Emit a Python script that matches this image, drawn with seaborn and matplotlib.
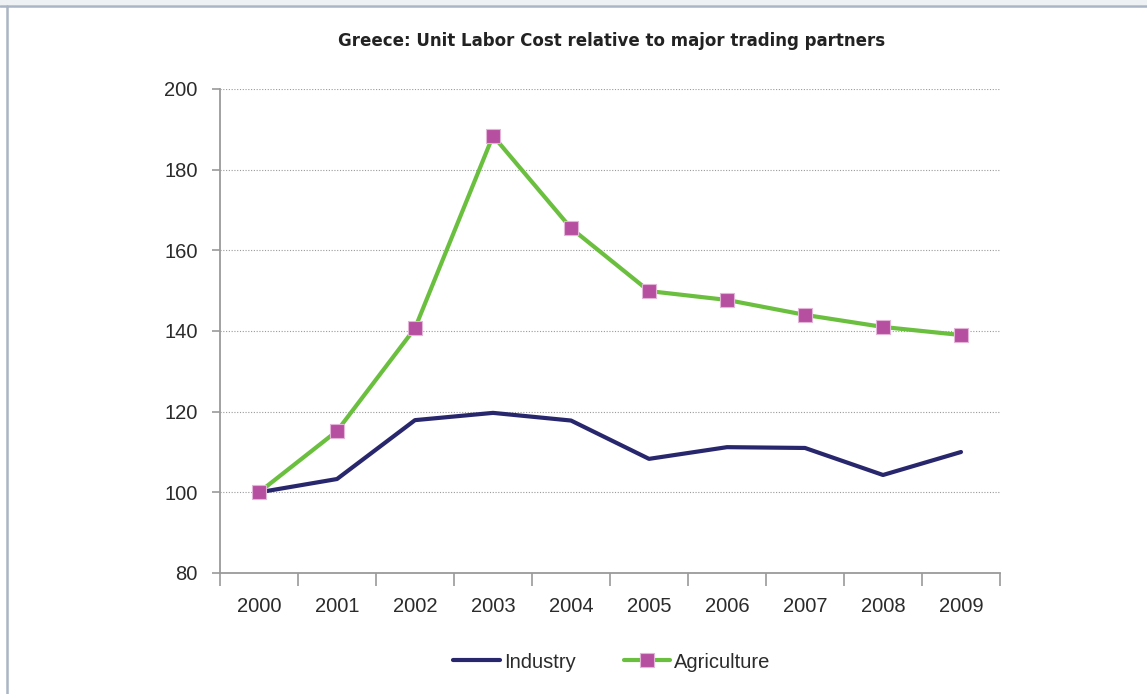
import numpy as np
import pandas as pd
import matplotlib
matplotlib.use("Agg")
import matplotlib.pyplot as plt
import seaborn as sns
from matplotlib.lines import Line2D

years = [2000, 2001, 2002, 2003, 2004, 2005, 2006, 2007, 2008, 2009]
industry = [100.0, 103.3, 117.9, 119.7, 117.8, 108.3, 111.2, 111.0, 104.3, 110.0]
agriculture = [100.0, 115.2, 140.7, 188.4, 165.5, 149.9, 147.7, 144.0, 141.0, 139.0]
y_ticks = [80, 100, 120, 140, 160, 180, 200]
title = "Greece: Unit Labor Cost relative to major trading partners"

sns.set_theme(style="white")
plt.rcParams['font.family'] = ['Liberation Sans', 'DejaVu Sans']

df = pd.DataFrame({"year": years, "Industry": industry, "Agriculture": agriculture})

fig = plt.figure(figsize=(11.47, 6.94), dpi=100)
ax = fig.add_axes([220/1147, 1-573/694, 780/1147, 484/694])

navy = "#28276d"
green = "#6bbf3f"
magenta = "#b64f9f"

sns.lineplot(data=df, x="year", y="Industry", ax=ax, color=navy, linewidth=3.0, zorder=3)
sns.lineplot(data=df, x="year", y="Agriculture", ax=ax, color=green, linewidth=3.0,
             marker="s", markersize=10.5, markerfacecolor=magenta, markeredgecolor="#e3b3d8",
             markeredgewidth=0.8, zorder=4)

ax.set_xlim(years[0] - 0.5, years[-1] + 0.5)
ax.set_ylim(y_ticks[0], y_ticks[-1])
ax.set_xlabel("")
ax.set_ylabel("")

# y axis
ax.set_yticks(y_ticks)
ax.set_yticklabels([str(v) for v in y_ticks], fontsize=14.5, color="#2b2b2b")
ax.tick_params(axis="y", which="major", direction="out", length=6, width=1.2,
               color="#9a9a9a", pad=10, left=True)

# x axis: major ticks at boundaries, labels at categories via minor ticks
bounds = [y - 0.5 for y in years] + [years[-1] + 0.5]
ax.set_xticks(bounds)
ax.set_xticklabels([])
ax.tick_params(axis="x", which="major", direction="out", length=9, width=1.2,
               color="#9a9a9a", bottom=True)
ax.set_xticks(years, minor=True)
ax.set_xticklabels([str(y) for y in years], minor=True, fontsize=14.5, color="#2b2b2b")
ax.tick_params(axis="x", which="minor", length=0, pad=17)

for s in ["top", "right"]:
    ax.spines[s].set_visible(False)
for s in ["left", "bottom"]:
    ax.spines[s].set_color("#9a9a9a")
    ax.spines[s].set_linewidth(1.3)

for v in y_ticks[1:]:
    ax.axhline(v, color="#9a9a9a", linestyle=(0, (1, 1.5)), linewidth=0.8, zorder=1)

fig.text(612/1147, 1-41/694, title, ha="center", va="center", fontsize=12,
         fontweight="bold", color="#222222", family=['DejaVu Sans'])

handles = [Line2D([0], [0], color=navy, linewidth=3.0),
           Line2D([0], [0], color=green, linewidth=3.0, marker="s", markersize=10.5,
                  markerfacecolor=magenta, markeredgecolor="#e3b3d8", markeredgewidth=0.8)]
fig.legend(handles, ["Industry", "Agriculture"], loc="center", bbox_to_anchor=(612/1147, 1-662/694),
           ncol=2, frameon=False, fontsize=14.5, handlelength=2.3, handletextpad=0.2,
           columnspacing=2.4, labelcolor="#2b2b2b")

# frame decoration
fig.patches.append(plt.Rectangle((0, 1-5/694), 1, 5/694, transform=fig.transFigure,
                                 facecolor="#edf1f4", edgecolor="none"))
fig.lines.append(Line2D([0, 1], [1-6/694, 1-6/694], transform=fig.transFigure,
                        color="#a9b4c4", linewidth=1.8))
fig.lines.append(Line2D([7/1147, 7/1147], [0, 1-6/694], transform=fig.transFigure,
                        color="#aab5c5", linewidth=1.8))

fig.savefig("out.png", dpi=100)
